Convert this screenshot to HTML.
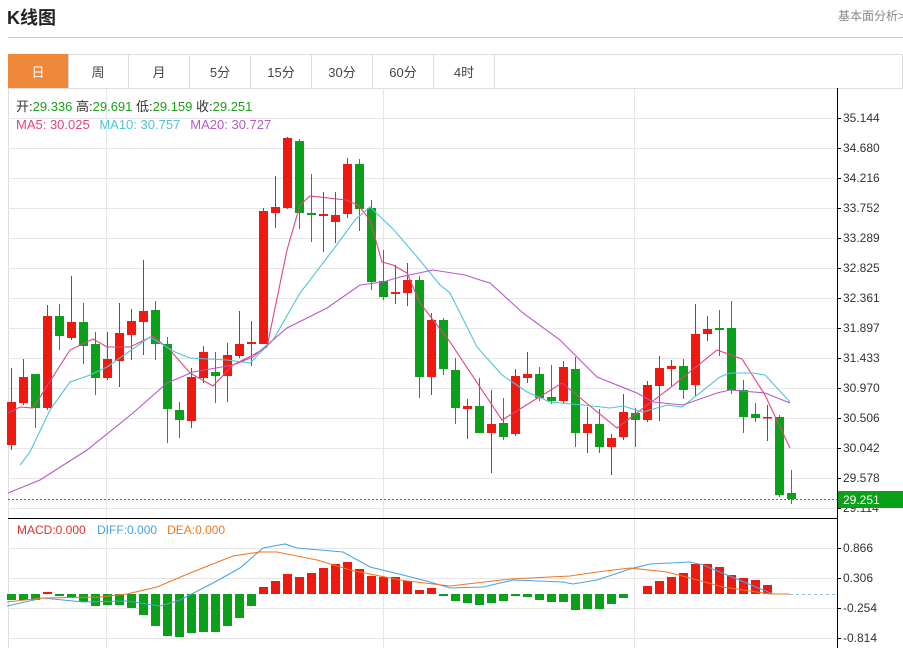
<!DOCTYPE html>
<html><head><meta charset="utf-8"><style>
body{margin:0;width:903px;height:648px;overflow:hidden;background:#fff;font-family:"Liberation Sans","Noto Sans CJK SC",sans-serif;}
svg{position:absolute;left:0;top:0}
</style></head><body>
<svg id="s" width="903" height="648" xmlns="http://www.w3.org/2000/svg" font-family="Liberation Sans, Noto Sans CJK SC, sans-serif">
<text x="7" y="24" font-size="18" font-weight="bold" fill="#222">K线图</text>
<text x="838" y="20" font-size="12" fill="#888">基本面分析&gt;</text>
<line x1="8" y1="37.5" x2="903" y2="37.5" stroke="#ccc"/>
<rect x="8.5" y="54.5" width="894" height="34" fill="#fff" stroke="#ddd"/>
<rect x="8" y="54" width="60" height="34" fill="#f0883a"/>
<g stroke="#ddd"><line x1="68.5" y1="54" x2="68.5" y2="88"/><line x1="128.5" y1="54" x2="128.5" y2="88"/><line x1="189.5" y1="54" x2="189.5" y2="88"/><line x1="250.5" y1="54" x2="250.5" y2="88"/><line x1="311.5" y1="54" x2="311.5" y2="88"/><line x1="372.5" y1="54" x2="372.5" y2="88"/><line x1="433.5" y1="54" x2="433.5" y2="88"/><line x1="494.5" y1="54" x2="494.5" y2="88"/></g>
<g font-size="13" fill="#444" text-anchor="middle"><text x="38" y="77" fill="#fff">日</text><text x="98" y="77">周</text><text x="159" y="77">月</text><text x="220" y="77">5分</text><text x="281" y="77">15分</text><text x="342" y="77">30分</text><text x="403" y="77">60分</text><text x="464" y="77">4时</text></g>
<line x1="8.5" y1="88" x2="8.5" y2="648" stroke="#ddd"/>
<g id="grid" stroke="#e6e6e6"></g>
<line x1="8" y1="518.5" x2="837" y2="518.5" stroke="#000"/>
<line x1="837.5" y1="88" x2="837.5" y2="648" stroke="#000"/>
<g id="c"></g>
<line x1="8" y1="499.5" x2="837" y2="499.5" stroke="#1a9e1a" stroke-dasharray="2,2"/>
<line x1="790" y1="594.5" x2="837" y2="594.5" stroke="#8cc0e0" stroke-dasharray="3,3"/>
<g id="ax" font-size="12" fill="#333"></g>
<rect x="838" y="491" width="65" height="17" fill="#0aa01a"/>
<text x="843" y="504" font-size="12" fill="#fff">29.251</text>
<g font-size="13">
<text x="16" y="111" fill="#333">开:<tspan fill="#1a9e1a">29.336</tspan>  高:<tspan fill="#1a9e1a">29.691</tspan>  低:<tspan fill="#1a9e1a">29.159</tspan>  收:<tspan fill="#1a9e1a">29.251</tspan></text>
<text x="16" y="129" fill="#e0457b">MA5: 30.025 <tspan fill="#4fc4d9" dx="6">MA10: 30.757</tspan><tspan fill="#b35bc6" dx="10">MA20: 30.727</tspan></text>
<text x="17" y="534" font-size="12" fill="#e0302a">MACD:0.000 <tspan fill="#4aa3e0" dx="8">DIFF:0.000</tspan><tspan fill="#f07820" dx="10">DEA:0.000</tspan></text>
</g>
</svg>
<script>
var N="http://www.w3.org/2000/svg";
function el(p,t,a){var e=document.createElementNS(N,t);for(var k in a)e.setAttribute(k,a[k]);p.appendChild(e);return e;}
var g=document.getElementById('grid'),c=document.getElementById('c'),ax=document.getElementById('ax');
var lv=["35.144","34.680","34.216","33.752","33.289","32.825","32.361","31.897","31.433","30.970","30.506","30.042","29.578","29.114"];
for(var i=0;i<14;i++){var y=118+30*i;el(g,'line',{x1:8,y1:y+.5,x2:837,y2:y+.5});el(ax,'line',{x1:837,y1:y+.5,x2:841,y2:y+.5,stroke:'#000'});el(ax,'text',{x:843,y:y+4}).textContent=lv[i];}
var ml=["0.866","0.306","-0.254","-0.814"];
for(i=0;i<4;i++){var y=548+30*i;el(g,'line',{x1:8,y1:y+.5,x2:837,y2:y+.5});el(ax,'line',{x1:837,y1:y+.5,x2:841,y2:y+.5,stroke:'#000'});el(ax,'text',{x:843,y:y+4}).textContent=ml[i];}
[106,383,634].forEach(function(x){el(g,'line',{x1:x+.5,y1:88,x2:x+.5,y2:648});});
var R="#f0190f",G="#0aa01a";
var d=[
"r 402 445 368 450","r 377 403 359 405","g 374 408 374 428","r 316 408 305 410","g 316 336 304 350","r 322 338 276 340","g 322 346 303 364","g 344 378 332 395","r 359 378 332 380","r 333 361 303 387",
"r 321 335 309 360","r 311 322 260 355","g 310 344 301 360","g 344 409 337 443","g 410 420 402 438","r 377 421 368 428","r 352 378 346 383","g 372 376 352 403","r 355 376 343 402","r 344 356 311 358",
"r 342 344 321 366","r 211 344 208 344","r 207 213 176 228","r 138 208 137 209","g 141 213 139 229","g 213 215 174 242","r 214 216 192 252","r 215 222 192 243","r 164 214 158 218","g 164 209 159 231",
"g 208 282 200 290","g 281 297 250 300","r 292 294 265 304","r 280 293 263 306","g 280 377 276 398","r 320 377 313 395","g 320 369 318 375","g 370 408 358 424","r 406 409 399 439","g 406 433 378 433",
"r 424 433 390 473","g 423 437 398 440","r 376 434 369 436","r 374 378 352 383","g 374 398 367 401","g 397 401 365 404","r 367 401 361 404","g 369 433 357 447","r 424 433 407 453","g 424 447 409 453",
"r 438 447 434 475","r 412 437 394 440","g 413 420 408 447","r 385 420 381 422","r 368 386 356 421","r 366 369 360 386","g 366 390 359 399","r 334 385 304 396","r 329 334 316 341","g 328 330 310 356",
"g 328 390 301 394","g 390 417 380 433","g 414 418 403 422","r 417 418 405 441","g 417 495 415 497","g 493 499 470 504"];
var mh=[600,600,600,-592,596,597,602,606,605,605,608,615,626,636,637,633,632,632,626,618,606,-587,-581,-574,-577,-573,-568,-564,-562,-569,-576,-577,-577,-581,-590,-588,596,601,603,605,603,601,596,597,600,602,602,610,609,609,604,598,0,-586,-581,-577,-573,-564,-564,-567,-575,-578,-580,-585,0,0];
for(i=0;i<66;i++){var x=11+12*i,p=d[i].split(' '),col=p[0]=='r'?R:G;
el(c,'line',{x1:x+.5,y1:+p[3],x2:x+.5,y2:+p[4],stroke:col});
el(c,'rect',{x:x-4,y:+p[1],width:9,height:Math.max(1.5,p[2]-p[1]),fill:col});
var m=mh[i];if(m>0)el(c,'rect',{x:x-4,y:594,width:9,height:Math.max(1,m-594),fill:G});else if(m<0)el(c,'rect',{x:x-4,y:-m,width:9,height:Math.max(1,594+m),fill:R});}
function pl(pts,col){el(c,'polyline',{points:pts,fill:'none',stroke:col,'stroke-width':1.1});}
pl("8,413 20,407 33,408 70,350 93,339 107,347 130,347 153,336 170,350 190,373 213,386 233,365 253,355 267,347 287,250 300,205 310,196 346,200 358,205 370,220 382,262 393,265 407,273 420,303 450,342 502,420 562,383 617,428 670,388 717,350 742,359 765,395 790,448","#e0457b");
pl("20,465 30,452 50,410 70,382 90,375 107,367 150,337 175,352 190,358 227,360 250,363 273,340 300,293 333,250 355,220 370,207 394,230 418,258 440,285 450,293 477,347 502,375 527,392 550,402 583,405 610,408 623,406 643,412 667,405 682,407 720,377 730,373 753,373 765,375 790,402","#4fc4d9");
pl("8,493 40,480 87,450 133,413 167,383 193,372 233,365 253,357 287,328 327,308 360,285 383,282 400,277 433,270 465,275 480,280 490,283 523,313 560,340 597,377 637,393 653,402 683,405 717,393 730,390 765,393 790,403","#b35bc6");
pl("7,606 43,598 83,602 127,601 160,606 180,600 213,583 240,568 263,548 285,544 297,548 343,552 370,567 403,575 430,582 450,588 483,587 513,580 563,582 573,584 597,580 630,569 650,564 690,562 703,565 773,594 790,594","#4aa3e0");
pl("7,602 43,598 100,597 127,594 157,587 190,573 233,556 260,552 277,552 317,560 350,570 400,580 450,586 510,579 570,576 597,572 630,568 667,572 690,578 723,587 770,594 790,594","#f07820");
</script>
</body></html>
